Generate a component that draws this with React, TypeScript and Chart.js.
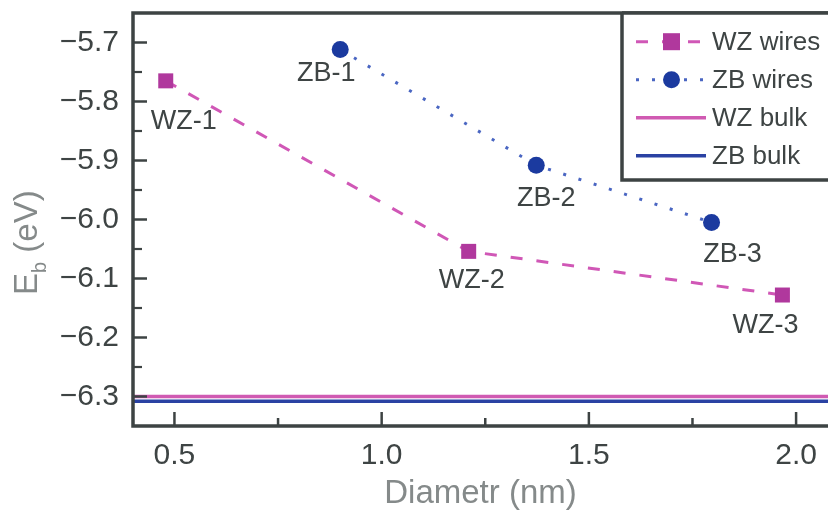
import React, { useEffect, useRef } from 'react';
import { Chart, registerables } from 'chart.js';
Chart.register(...registerables);

// ---------- data ----------
const wzDiameter = [0.479, 1.21, 1.967];
const wzEnergy = [-5.765, -6.054, -6.128];
const wzNames = ['WZ-1', 'WZ-2', 'WZ-3'];
const zbDiameter = [0.9, 1.373, 1.796];
const zbEnergy = [-5.712, -5.908, -6.005];
const zbNames = ['ZB-1', 'ZB-2', 'ZB-3'];
const bulkDiameter = [0.4, 2.077];
const wzBulkEnergy = [-6.3, -6.3];
const zbBulkEnergy = [-6.308, -6.308];
const seriesNames = ['WZ wires', 'ZB wires', 'WZ bulk', 'ZB bulk'];
const xTickValues = [0.5, 1.0, 1.5, 2.0];
const xMinorValues = [0.75, 1.25, 1.75];
const yTickValues = [-5.7, -5.8, -5.9, -6.0, -6.1, -6.2, -6.3];
const yMinorValues = [-5.75, -5.85, -5.95, -6.05, -6.15, -6.25];
const xRange = [0.4, 2.077];
const yRange = [-6.35, -5.65];

// ---------- style ----------
const FONT = '"Liberation Sans", Arial, Helvetica, sans-serif';
const WZ_MARK = '#b0389d';
const WZ_LINE = '#d057b6';
const ZB_MARK = '#1b3a9f';
const ZB_LINE = '#4a66c2';
const WZ_BULK = '#d05ab2';
const ZB_BULK = '#2a42a3';
const AXIS = '#3d4343';
const TEXT = '#3e4444';
const TITLE = '#858a8a';
const wzLabelOffsets = [[18, 41], [3, 29], [-17, 31]];
const zbLabelOffsets = [[-14, 24], [10, 33], [21, 32]];

const pts = (xs: number[], ys: number[]) => xs.map((x, i) => ({ x, y: ys[i] }));
const fmt = (v: number) => (v < 0 ? '\u2212' : '') + Math.abs(v).toFixed(1);

const framePlugin = {
  id: 'frame',
  afterDatasetsDraw(chart: any) {
    const { ctx, chartArea: a, scales } = chart;
    const xs = scales.x, ys = scales.y;
    ctx.save();
    ctx.strokeStyle = AXIS;
    ctx.lineCap = 'butt';
    const tick = (x1: number, y1: number, x2: number, y2: number, w: number) => {
      ctx.lineWidth = w;
      ctx.beginPath(); ctx.moveTo(x1, y1); ctx.lineTo(x2, y2); ctx.stroke();
    };
    yTickValues.forEach(v => { const p = ys.getPixelForValue(v); tick(a.left, p, a.left + 14, p, 2.5); });
    yMinorValues.forEach(v => { const p = ys.getPixelForValue(v); tick(a.left, p, a.left + 9, p, 2.2); });
    xTickValues.forEach(v => { const p = xs.getPixelForValue(v); tick(p, a.bottom, p, a.bottom - 14, 2.5); });
    xMinorValues.forEach(v => { const p = xs.getPixelForValue(v); tick(p, a.bottom, p, a.bottom - 8, 2.5); });
    ctx.lineWidth = 3.5;
    ctx.beginPath();
    ctx.moveTo(a.right + 2, a.top);
    ctx.lineTo(a.left, a.top);
    ctx.lineTo(a.left, a.bottom);
    ctx.lineTo(a.right + 2, a.bottom);
    ctx.stroke();
    ctx.fillStyle = TEXT;
    ctx.font = `27px ${FONT}`;
    ctx.textAlign = 'center';
    ctx.textBaseline = 'middle';
    const m0 = chart.getDatasetMeta(0), m1 = chart.getDatasetMeta(1);
    wzNames.forEach((n, i) => {
      const el = m0.data[i];
      ctx.fillText(n, el.x + wzLabelOffsets[i][0], el.y + wzLabelOffsets[i][1]);
    });
    zbNames.forEach((n, i) => {
      const el = m1.data[i];
      ctx.fillText(n, el.x + zbLabelOffsets[i][0], el.y + zbLabelOffsets[i][1]);
    });
    ctx.restore();
  },
  afterDraw(chart: any) {
    const { ctx, chartArea: a } = chart;
    ctx.save();
    ctx.fillStyle = TITLE;
    ctx.translate(37, 295);
    ctx.rotate(-Math.PI / 2);
    ctx.textAlign = 'left';
    ctx.textBaseline = 'alphabetic';
    ctx.font = `33px ${FONT}`;
    ctx.fillText('E', 0, 0);
    let u = ctx.measureText('E').width;
    ctx.font = `20px ${FONT}`;
    ctx.fillText('b', u, 9);
    u += ctx.measureText('b').width;
    ctx.font = `33px ${FONT}`;
    ctx.fillText(' (eV)', u, 0);
    ctx.restore();

    ctx.save();
    const lw = 206, lh = 167;
    const lx = a.right - lw, ly = a.top;
    ctx.fillStyle = '#ffffff';
    ctx.fillRect(lx, ly, lw + 5, lh);
    ctx.strokeStyle = AXIS;
    ctx.lineWidth = 3.5;
    ctx.beginPath();
    ctx.moveTo(lx, ly);
    ctx.lineTo(lx, ly + lh);
    ctx.lineTo(a.right + 2, ly + lh);
    ctx.moveTo(lx, ly);
    ctx.lineTo(a.right + 2, ly);
    ctx.stroke();
    const ds = chart.data.datasets;
    seriesNames.forEach((name, i) => {
      const cy = ly + 28.7 + i * 38;
      const d = ds[i];
      const x0 = lx + 14, x1 = lx + 84, mx = lx + 49.5;
      ctx.save();
      ctx.strokeStyle = d.borderColor;
      ctx.lineWidth = d.borderWidth;
      ctx.setLineDash(d.borderDash || []);
      ctx.beginPath(); ctx.moveTo(x0, cy); ctx.lineTo(x1, cy); ctx.stroke();
      ctx.setLineDash([]);
      ctx.fillStyle = d.pointBackgroundColor;
      if (d.pointStyle === 'rect') {
        ctx.fillRect(mx - 8.5, cy - 8.5, 17, 17);
      } else if (d.pointStyle === 'circle' && d.pointRadius > 0) {
        ctx.beginPath(); ctx.arc(mx, cy, 8.5, 0, Math.PI * 2); ctx.fill();
      }
      ctx.restore();
      ctx.fillStyle = TEXT;
      ctx.font = `26px ${FONT}`;
      ctx.textAlign = 'left';
      ctx.textBaseline = 'middle';
      ctx.fillText(name, lx + 90, cy + 1);
    });
    ctx.restore();
  },
};

export default function App() {
  const ref = useRef<HTMLCanvasElement>(null);
  useEffect(() => {
    document.body.style.margin = '0';
    const chart = new Chart(ref.current as HTMLCanvasElement, {
      type: 'line',
      data: {
        datasets: [
          {
            label: seriesNames[0],
            data: pts(wzDiameter, wzEnergy),
            borderColor: WZ_LINE,
            borderWidth: 3,
            borderDash: [12, 14],
            pointStyle: 'rect',
            pointRadius: 10.6,
            pointBorderWidth: 0,
            pointBackgroundColor: WZ_MARK,
            pointBorderColor: WZ_MARK,
            tension: 0,
          },
          {
            label: seriesNames[1],
            data: pts(zbDiameter, zbEnergy),
            borderColor: ZB_LINE,
            borderWidth: 3,
            borderDash: [3, 13],
            pointStyle: 'circle',
            pointRadius: 8.5,
            pointBorderWidth: 0,
            pointBackgroundColor: ZB_MARK,
            pointBorderColor: ZB_MARK,
            tension: 0,
          },
          {
            label: seriesNames[2],
            data: pts(bulkDiameter, wzBulkEnergy),
            borderColor: WZ_BULK,
            borderWidth: 3.5,
            pointRadius: 0,
            pointStyle: 'line',
            pointBackgroundColor: WZ_BULK,
          },
          {
            label: seriesNames[3],
            data: pts(bulkDiameter, zbBulkEnergy),
            borderColor: ZB_BULK,
            borderWidth: 3.5,
            pointRadius: 0,
            pointStyle: 'line',
            pointBackgroundColor: ZB_BULK,
          },
        ],
      },
      options: {
        animation: false,
        responsive: false,
        devicePixelRatio: 1,
        layout: { autoPadding: false, padding: { top: 13, right: 0, left: 0, bottom: 0 } },
        plugins: { legend: { display: false }, tooltip: { enabled: false } },
        scales: {
          x: {
            type: 'linear',
            min: xRange[0],
            max: xRange[1],
            afterBuildTicks: (s: any) => { s.ticks = xTickValues.map(v => ({ value: v })); },
            afterFit: (s: any) => { s.height = 90; s.paddingLeft = 0; s.paddingRight = 0; },
            grid: { display: false, drawTicks: false },
            border: { display: false },
            ticks: {
              padding: 12,
              color: TEXT,
              font: { family: FONT, size: 30 },
              maxRotation: 0,
              autoSkip: false,
              callback: (v: any) => fmt(Number(v)),
            },
            title: {
              display: true,
              text: 'Diametr (nm)',
              color: TITLE,
              font: { family: FONT, size: 33 },
              padding: { top: 0, bottom: 2 },
            },
          },
          y: {
            type: 'linear',
            min: yRange[0],
            max: yRange[1],
            afterBuildTicks: (s: any) => { s.ticks = yTickValues.map(v => ({ value: v })); },
            afterFit: (s: any) => { s.width = 133; s.paddingTop = 0; s.paddingBottom = 0; },
            grid: { display: false, drawTicks: false },
            border: { display: false },
            ticks: {
              padding: 14,
              color: TEXT,
              font: { family: FONT, size: 30 },
              autoSkip: false,
              callback: (v: any) => fmt(Number(v)),
            },
          },
        },
      },
      plugins: [framePlugin],
    } as any);
    return () => chart.destroy();
  }, []);
  return (
    <div style={{ position: 'absolute', left: 0, top: 0, width: 828, height: 516 }}>
      <canvas ref={ref} width={828} height={516} />
    </div>
  );
}
